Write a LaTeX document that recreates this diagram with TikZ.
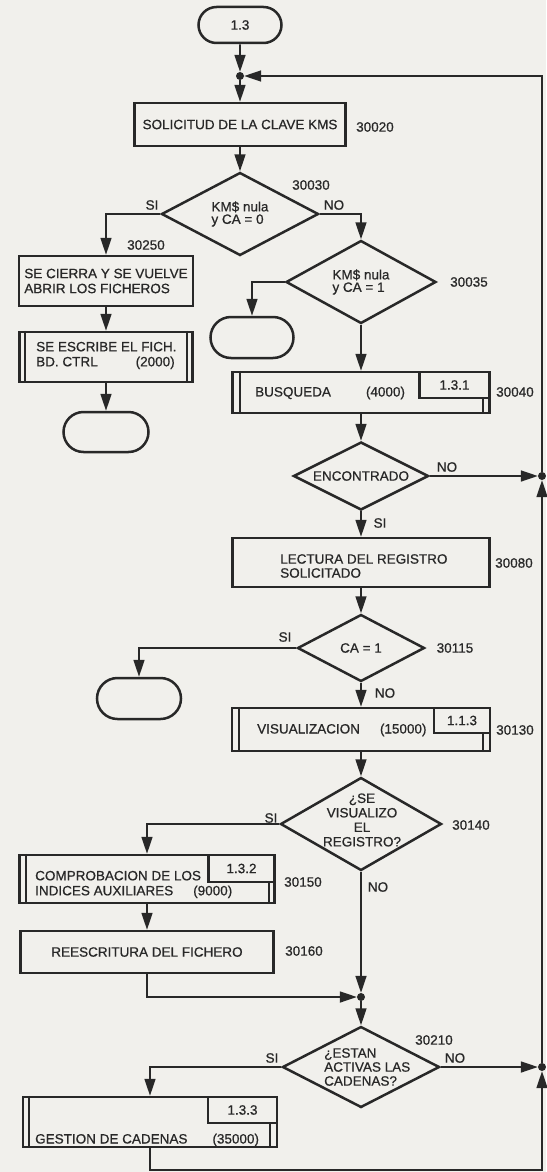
\documentclass[tikz,border=0pt]{standalone}
\usepackage{fontspec}
\setmainfont{Liberation Sans}[FakeBold=0.7]
\usetikzlibrary{arrows.meta,shapes.geometric,shapes.misc}
\definecolor{ink}{RGB}{40,40,40}
\definecolor{paper}{RGB}{241,240,236}
\begin{document}
\begin{tikzpicture}[x=1pt,y=-1pt,
  every node/.style={text=ink,font=\fontsize{13.5}{15}\selectfont},
  shp/.style={draw=ink,line width=2.5pt},
  box/.style={shp,rectangle,inner sep=0pt},
  term/.style={shp,rounded rectangle,inner sep=0pt,minimum width=84pt,minimum height=41pt},
  dec/.style={shp,diamond,inner sep=0pt},
  insetbox/.style={shp,rectangle,inner sep=0pt,anchor=north east,minimum width=#1,minimum height=26pt},
  jdot/.style={circle,fill=ink,inner sep=0pt,minimum size=8pt},
  con/.style={draw=ink,line width=1.7pt},
  arr/.style={con,-{Triangle[length=17pt,width=11pt]}},
  lbl/.style={inner sep=0pt},
  bar/.style={draw=ink,line width=2.2pt}
]
\path[use as bounding box,fill=paper] (0,0) rectangle (546,1172);

% ---- shapes ----
\node[term,minimum width=83pt,minimum height=36pt] (t0) at (240,25) {1.3};
\node[jdot] (j0) at (240,76) {};
\node[box,minimum width=211pt,minimum height=43pt] (b1) at (240,124.5) {SOLICITUD DE LA CLAVE KMS};
\node[dec,aspect=1.89,minimum width=157pt,minimum height=83pt,align=left,font=\fontsize{13.5}{12.5}\selectfont] (d1) at (240,214) {KM\$ nula\\y CA = 0};
\node[box,minimum width=174pt,minimum height=50pt,align=left] (b2) at (106,281) {SE CIERRA Y SE VUELVE\\ABRIR LOS FICHEROS};
\node[box,minimum width=173pt,minimum height=50pt] (b3) at (106,357) {};
\draw[bar] ([xshift=7pt]b3.north west) -- ([xshift=7pt]b3.south west);
\draw[bar] ([xshift=-7pt]b3.north east) -- ([xshift=-7pt]b3.south east);
\node[lbl,anchor=west,align=left] (x3) at (36,355.5) {SE ESCRIBE EL FICH.\\BD. CTRL\hspace{38pt}(2000)};
\node[term,minimum width=85pt,minimum height=40pt] (t1) at (106,432) {};

\node[dec,aspect=1.8,minimum width=150pt,minimum height=83pt,align=left,font=\fontsize{13.5}{12.5}\selectfont] (d2) at (361,282) {KM\$ nula\\y CA = 1};
\node[term,minimum width=83pt,minimum height=41pt] (t2) at (252,337.5) {};

\node[box,minimum width=257pt,minimum height=41pt] (b4) at (361,392.5) {};
\node[insetbox=70pt] (i4) at (b4.north east) {1.3.1};
\draw[bar] ([xshift=9pt]b4.north west) -- ([xshift=9pt]b4.south west);
\draw[bar] ([xshift=-8pt]i4.south east) -- ([xshift=-8pt]b4.south east);
\node[lbl,anchor=west] (x4) at (255,393) {BUSQUEDA\hspace{35pt}(4000)};

\node[dec,aspect=2,minimum width=135pt,minimum height=68pt] (d3) at (361,476) {ENCONTRADO};
\node[jdot] (j1) at (542,476) {};

\node[box,minimum width=257pt,minimum height=49pt] (b5) at (361,562.5) {};
\node[lbl,anchor=west,align=left,font=\fontsize{13.5}{14}\selectfont] (x5) at (280,566) {LECTURA DEL REGISTRO\\SOLICITADO};

\node[dec,aspect=1.9,minimum width=127pt,minimum height=67pt] (d4) at (361,648) {CA = 1};
\node[term,minimum width=84pt,minimum height=41pt] (t3) at (139,698.5) {};

\node[box,minimum width=258pt,minimum height=43pt] (b6) at (361,729.5) {};
\node[insetbox=56pt,minimum height=25pt] (i6) at (b6.north east) {1.1.3};
\draw[bar] ([xshift=8pt]b6.north west) -- ([xshift=8pt]b6.south west);
\draw[bar] ([xshift=-8pt]i6.south east) -- ([xshift=-8pt]b6.south east);
\node[lbl,anchor=west] (x6) at (257,730) {VISUALIZACION\hspace{20pt}(15000)};

\node[dec,minimum width=161pt,minimum height=93pt] (d5) at (361,824) {};
\node[lbl,align=center,font=\fontsize{13.5}{14.5}\selectfont] (x10) at (362,820) {¿SE\\VISUALIZO\\EL\\REGISTRO?};

\node[box,minimum width=255pt,minimum height=48pt] (b7) at (147,879) {};
\node[insetbox=66pt,minimum height=27pt] (i7) at (b7.north east) {1.3.2};
\draw[bar] ([xshift=8pt]b7.north west) -- ([xshift=8pt]b7.south west);
\draw[bar] ([xshift=-7pt]i7.south east) -- ([xshift=-7pt]b7.south east);
\node[lbl,anchor=west,align=left] (x7) at (35,884.5) {COMPROBACION DE LOS\\INDICES AUXILIARES\hspace{20pt}(9000)};

\node[box,minimum width=253pt,minimum height=42pt] (b8) at (147,952) {REESCRITURA DEL FICHERO};

\node[jdot] (j2) at (361,997) {};
\node[dec,minimum width=157pt,minimum height=81pt] (d6) at (361,1067) {};
\node[lbl,anchor=west,align=left,font=\fontsize{13.5}{14}\selectfont] (x11) at (324,1067) {¿ESTAN\\ACTIVAS LAS\\CADENAS?};
\node[jdot] (j3) at (542,1067) {};

\node[box,minimum width=254pt,minimum height=50pt] (b9) at (150,1122) {};
\node[insetbox=69pt] (i9) at (b9.north east) {1.3.3};
\draw[bar] ([xshift=7pt]b9.north west) -- ([xshift=7pt]b9.south west);
\draw[bar] ([xshift=-8pt]i9.south east) -- ([xshift=-8pt]b9.south east);
\node[lbl,anchor=west] (x9) at (35,1140) {GESTION DE CADENAS\hspace{25pt}(35000)};

\coordinate (c1) at (542,1170);

% ---- labels ----
\node[lbl] (n1) at (375,127) {30020};
\node[lbl] (n2) at (311,185) {30030};
\node[lbl] (n3) at (146,245) {30250};
\node[lbl] (n4) at (469,282) {30035};
\node[lbl] (n5) at (515,392) {30040};
\node[lbl] (n6) at (514,563) {30080};
\node[lbl] (n7) at (455,648) {30115};
\node[lbl] (n8) at (515,730) {30130};
\node[lbl] (n9) at (471,825) {30140};
\node[lbl] (n10) at (303,882) {30150};
\node[lbl] (n11) at (304,951) {30160};
\node[lbl] (n12) at (434,1040) {30210};
\node[lbl] (s1) at (152,205) {SI};
\node[lbl] (o1) at (334,205) {NO};
\node[lbl] (o3) at (447,467) {NO};
\node[lbl] (s3) at (380,523) {SI};
\node[lbl] (s4) at (285,637) {SI};
\node[lbl] (o4) at (385,693) {NO};
\node[lbl] (s5) at (271,818) {SI};
\node[lbl] (o5) at (378,887) {NO};
\node[lbl] (s6) at (272,1058) {SI};
\node[lbl] (o6) at (455,1058) {NO};

% ---- connectors ----
\draw[arr] (t0) -- (j0);
\draw[arr] (j0) -- (b1);
\draw[arr] (b1) -- (d1);
\draw[arr] (d1.west) -| (b2.north);
\draw[arr] (b2) -- (b3);
\draw[arr] (b3) -- (t1);
\draw[arr] (d1.east) -| (d2.north);
\draw[arr] (d2.west) -| (t2.north);
\draw[arr] (d2) -- (b4);
\draw[arr] (b4) -- (d3);
\draw[arr] (d3.east) -- (j1);
\draw[arr] (d3) -- (b5);
\draw[arr] (b5) -- (d4);
\draw[arr] (d4.west) -| (t3.north);
\draw[arr] (d4) -- (b6);
\draw[arr] (b6) -- (d5);
\draw[arr] (d5.west) -| (b7.north);
\draw[arr] (b7) -- (b8);
\draw[arr] (b8.south) |- (j2);
\draw[arr] (d5) -- (j2);
\draw[arr] (j2) -- (d6);
\draw[arr] (d6.east) -- (j3);
\draw[arr] (d6.west) -| (b9.north);
\draw[arr] (b9.south) |- (c1) -- (j3);
\draw[arr] (j3) -- (j1);
\draw[arr] (j1) |- (j0);
\end{tikzpicture}
\end{document}
